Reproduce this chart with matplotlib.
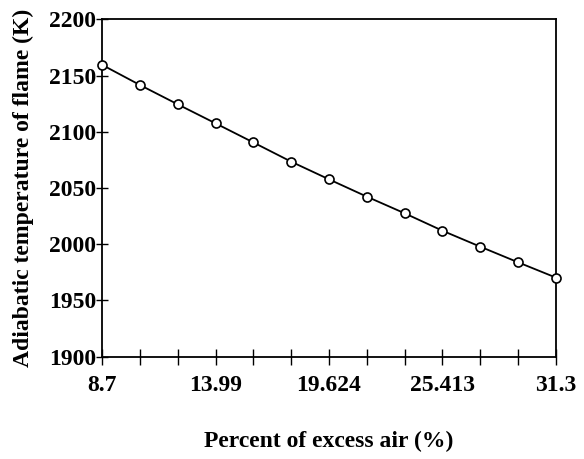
import matplotlib
matplotlib.use("Agg")
import matplotlib.pyplot as plt

# Data
excess_air_labels = ["8.7", "", "", "13.99", "", "", "19.624", "", "", "25.413", "", "", "31.3"]
flame_temp = [2159.5, 2141.6, 2124.4, 2107.5, 2090.5, 2073.4, 2057.7,
              2042.3, 2027.5, 2012.0, 1997.8, 1983.9, 1970.3]
y_ticks = [1900, 1950, 2000, 2050, 2100, 2150, 2200]

plt.rcParams['font.family'] = ['Liberation Serif', 'DejaVu Serif']
plt.rcParams['font.weight'] = 'bold'

fig = plt.figure(figsize=(5.84, 4.59), dpi=100)
ax = fig.add_axes([0.1747, 0.2229, 0.952 - 0.1747, 0.958 - 0.2229])

x = list(range(len(flame_temp)))
ax.plot(x, flame_temp, color='black', lw=1.3, marker='o', markersize=6.5,
        markerfacecolor='white', markeredgecolor='black', markeredgewidth=1.2,
        clip_on=False, zorder=3)

ax.set_xlim(0, len(flame_temp) - 1)
ax.set_ylim(1900, 2200)
ax.set_xticks(x)
ax.set_xticklabels(excess_air_labels)
ax.set_yticks(y_ticks)

for s in ax.spines.values():
    s.set_linewidth(1.3)

ax.tick_params(axis='x', direction='inout', length=12, width=1.0, labelsize=17, pad=7)
ax.tick_params(axis='y', direction='inout', length=8, width=1.0, labelsize=17, pad=0)
for lab in ax.get_xticklabels() + ax.get_yticklabels():
    lab.set_fontweight('bold')

ax.set_xlabel("Percent of excess air (%)", fontsize=17, fontweight='bold', labelpad=25)
ax.set_ylabel("Adiabatic temperature of flame (K)", fontsize=17, fontweight='bold', labelpad=11)

fig.savefig("out.png", dpi=100)
